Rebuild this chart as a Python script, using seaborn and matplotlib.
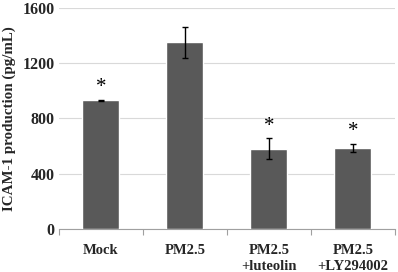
import matplotlib
matplotlib.use("Agg")
import matplotlib.pyplot as plt
import seaborn as sns
import pandas as pd

categories = ["Mock", "PM2.5", "PM2.5\n+luteolin", "PM2.5\n+LY294002"]
values = [930, 1352, 580, 585]
errors = [5, 112, 75, 29]
stars = ["*", "", "*", "*"]

sns.set_theme(style="white")
plt.rcParams['font.family'] = ['Liberation Serif', 'DejaVu Serif']

fig = plt.figure(figsize=(3.98, 2.72), dpi=100)
ax = fig.add_axes([0.148, 0.158, 0.844, 0.813])

df = pd.DataFrame({"cat": categories, "val": values})
sns.barplot(data=df, x="cat", y="val", color="#595959", saturation=1,
            width=0.44, errorbar=None, ax=ax, zorder=3)
ax.errorbar(range(len(categories)), values, yerr=errors, fmt="none",
            ecolor="black", elinewidth=1.0, capsize=2.5, capthick=1.0, zorder=4)
for i, (v, e, s) in enumerate(zip(values, errors, stars)):
    if s:
        ax.text(i, v + e + 20, s, ha="center", va="bottom", fontsize=15,
                color="black")

ax.set_ylim(0, 1600)
ax.set_xlim(-0.5, 3.5)
ax.set_yticks([0, 400, 800, 1200, 1600])
ax.yaxis.grid(True, color="#d9d9d9", linewidth=0.8, zorder=0)
ax.set_axisbelow(True)
for sp in ["top", "right", "left"]:
    ax.spines[sp].set_visible(False)
ax.spines["bottom"].set_color("#a0a0a0")
ax.spines["bottom"].set_linewidth(0.8)

ax.set_xlabel("")
ax.set_ylabel("ICAM-1 production (pg/mL)", fontsize=10.8, fontweight="bold", labelpad=5)
ax.tick_params(axis="y", length=0, labelsize=11.5, pad=3)
for lab in ax.get_yticklabels():
    lab.set_fontweight("bold")
ax.set_xticks(range(len(categories)))
ax.set_xticklabels(categories, fontsize=10.5, fontweight="bold", linespacing=1.3)
ax.tick_params(axis="x", length=0, pad=11)
ax.set_xticks([-0.5, 0.5, 1.5, 2.5, 3.5], minor=True)
ax.tick_params(axis="x", which="minor", length=4, color="#a0a0a0", width=0.8, bottom=True)

fig.savefig("out.png", dpi=100)
